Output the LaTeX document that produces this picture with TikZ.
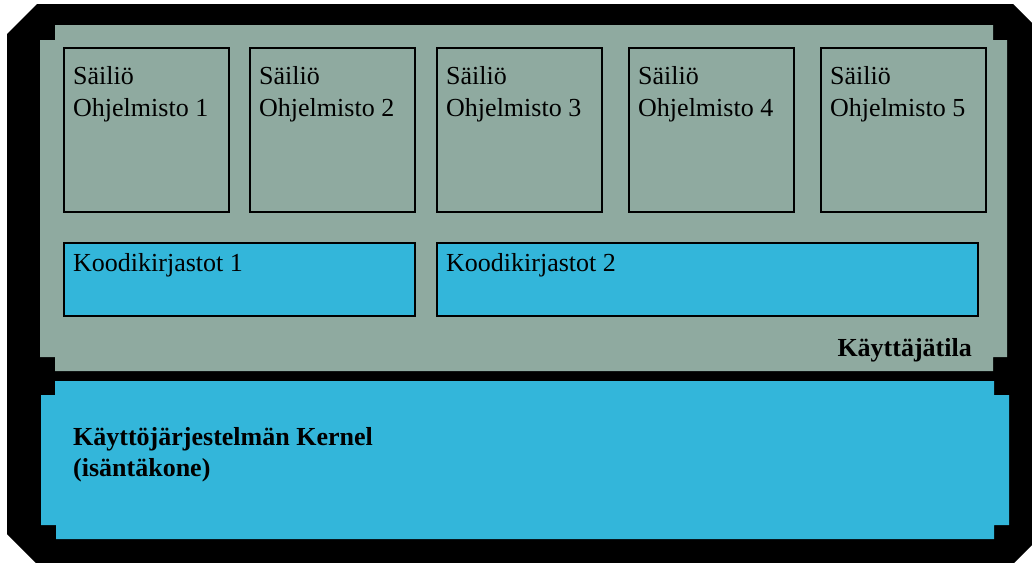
\documentclass[tikz,border=0pt]{standalone}
\usepackage{fontspec}
\setmainfont{Liberation Serif}
\definecolor{usergray}{HTML}{8FAAA0}
\definecolor{kernblue}{HTML}{33B6DA}
\tikzset{
  box/.style={draw=black, line width=1.8pt, inner sep=0pt, outer sep=0pt, anchor=north west},
  appbox/.style={box, minimum width=165pt, minimum height=164pt},
  libbox/.style={box, fill=kernblue, minimum height=73pt},
  txt/.style={anchor=base west, inner sep=0pt, font=\fontsize{26}{32}\selectfont},
  btxt/.style={txt, font=\fontsize{26}{32}\selectfont\bfseries},
}
\begin{document}
\begin{tikzpicture}[x=1pt, y=-1pt]
\useasboundingbox (0,0) rectangle (1032,562);
\fill[white] (0,0) rectangle (1032,562);
\begin{scope}
\clip (0,0) rectangle (1032,562);
% outer black frame
\fill[black] (37,4) -- (1013,4) -- (1043,34) -- (1043,534) -- (1013,564) -- (37,564) -- (7,534) -- (7,34) -- cycle;
\end{scope}
% user space
\fill[usergray] (55,25) -- (993,25) -- (993,40) -- (1007,40) -- (1007,357) -- (993,357) -- (993,371)
  -- (55,371) -- (55,357) -- (40,357) -- (40,40) -- (55,40) -- cycle;
% kernel
\fill[kernblue] (55,381) -- (994,381) -- (994,395) -- (1009,395) -- (1009,525) -- (994,525) -- (994,539)
  -- (56,539) -- (56,525) -- (41,525) -- (41,395) -- (55,395) -- cycle;

% container boxes
\foreach \i/\x in {1/64, 2/250, 3/437, 4/629, 5/821}{
  \node[appbox] (app\i) at (\x,48) {};
  \node[txt] (appa\i) at ([xshift=9pt, yshift=-36pt]app\i.north west) {Säiliö};
  \node[txt] (appb\i) at ([xshift=9pt, yshift=-68pt]app\i.north west) {Ohjelmisto \i};
}
% libraries
\node[libbox, minimum width=351pt] (lib1) at (64,243) {};
\node[libbox, minimum width=541pt] (lib2) at (437,243) {};
\node[txt] (libt1) at ([xshift=9pt, yshift=-28pt]lib1.north west) {Koodikirjastot 1};
\node[txt] (libt2) at ([xshift=9pt, yshift=-28pt]lib2.north west) {Koodikirjastot 2};

% labels
\node[btxt, anchor=base east] (user) at (972,356) {Käyttäjätila};
\node[btxt] (kern1) at (73,445) {Käyttöjärjestelmän Kernel};
\node[btxt] (kern2) at (73,476) {(isäntäkone)};
\end{tikzpicture}
\end{document}
